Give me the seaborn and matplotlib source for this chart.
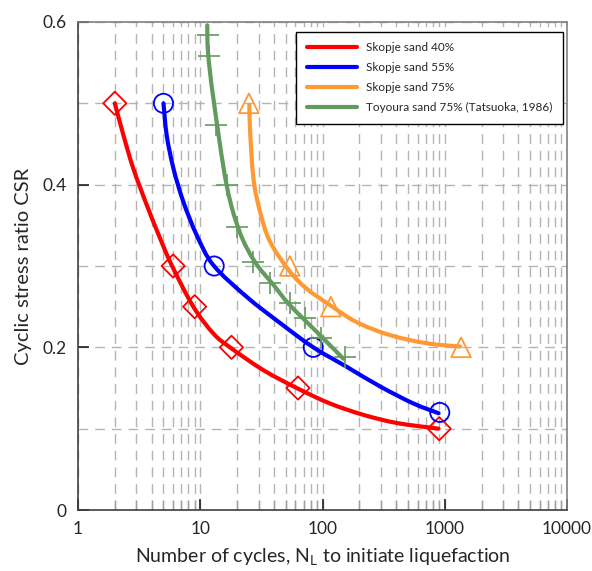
import numpy as np
import matplotlib
matplotlib.use("Agg")
import matplotlib.pyplot as plt
import seaborn as sns
from matplotlib.path import Path
from matplotlib.patches import PathPatch
from matplotlib.lines import Line2D
from matplotlib.ticker import LogLocator, FixedLocator, NullFormatter

# test points (cycles to liquefaction, CSR)
n_40 = [2, 6, 9, 18, 63, 900]
csr_40 = [0.50, 0.30, 0.25, 0.20, 0.15, 0.10]

n_55 = [5, 13, 84, 910]
csr_55 = [0.50, 0.30, 0.20, 0.12]

n_75 = [25, 54, 117, 1360]
csr_75 = [0.50, 0.30, 0.25, 0.20]

n_toy = [11.5, 11.8, 13.5, 16.4, 20, 27, 37, 54, 72, 98, 153]
csr_toy = [0.584, 0.558, 0.473, 0.40, 0.348, 0.305, 0.279, 0.254, 0.236, 0.212, 0.188]

# fitted curves
curve_n_40 = [2, 2.35, 2.83, 3.65, 4.69, 5.84, 8.77, 12.8, 17.5, 32.8, 61.5, 115, 216, 405, 890]
curve_csr_40 = [0.50, 0.461, 0.420, 0.375, 0.334, 0.301, 0.250, 0.217, 0.200, 0.172,
                0.150, 0.131, 0.117, 0.107, 0.100]

curve_n_55 = [5, 5.31, 6.03, 7.27, 9.35, 12.8, 24, 44.9, 84, 158, 295, 553, 890]
curve_csr_55 = [0.50, 0.461, 0.420, 0.379, 0.338, 0.301, 0.262, 0.230, 0.200, 0.176,
                0.152, 0.131, 0.119]

curve_n_75 = [25.2, 25.5, 27.2, 30.8, 37.2, 54.2, 74.3, 115, 190, 357, 712, 1333]
curve_csr_75 = [0.498, 0.469, 0.408, 0.367, 0.330, 0.293, 0.272, 0.252, 0.231, 0.215,
                0.205, 0.201]

curve_n_toy = [11.4, 11.6, 12.8, 16.4, 21, 28, 39.6, 54, 95.4, 148]
curve_csr_toy = [0.596, 0.561, 0.506, 0.400, 0.342, 0.305, 0.277, 0.252, 0.215, 0.186]

labels = ["Skopje sand 40%", "Skopje sand 55%", "Skopje sand 75%",
          "Toyoura sand 75% (Tatsuoka, 1986)"]
colors = ["#ff0000", "#0000ff", "#ff9933", "#639a5e"]

sns.set_style("white")
plt.rcParams['font.family'] = ['Lato', 'DejaVu Sans']
plt.rcParams['mathtext.fontset'] = 'custom'
plt.rcParams['mathtext.rm'] = 'Lato'


def smooth_path(xs, ys):
    # smoothed line through the read points, built in (log10 N, CSR) space
    pts = np.column_stack([np.log10(xs), ys])
    verts = [pts[0]]
    codes = [Path.MOVETO]
    for i in range(len(pts) - 1):
        p_prev = pts[i - 1] if i > 0 else pts[i]
        p_next = pts[i + 2] if i + 2 < len(pts) else pts[i + 1]
        c1 = pts[i] + (pts[i + 1] - p_prev) / 6
        c2 = pts[i + 1] - (p_next - pts[i]) / 6
        verts += [c1, c2, pts[i + 1]]
        codes += [Path.CURVE4] * 3
    verts = np.array(verts)
    verts[:, 0] = 10 ** verts[:, 0]
    return Path(verts, codes)


fig = plt.figure(figsize=(5.92, 5.71), dpi=100)
ax = fig.add_axes([0.1318, 0.1068, 0.826, 0.8547])
ax.set_xscale('log')
ax.set_xlim(1, 10000)
ax.set_ylim(0, 0.6)

# grid
ax.set_yticks([0, 0.2, 0.4, 0.6])
ax.yaxis.set_minor_locator(FixedLocator([0.1, 0.3, 0.5]))
ax.xaxis.set_major_locator(LogLocator(base=10, numticks=10))
ax.xaxis.set_minor_locator(LogLocator(base=10, subs=np.arange(2, 10), numticks=20))
ax.xaxis.set_minor_formatter(NullFormatter())
ax.grid(True, which='both', axis='both', color='#b4b4b4', lw=1.0,
        ls=(0, (7, 5)))
ax.set_axisbelow(True)

curves = [(curve_n_40, curve_csr_40), (curve_n_55, curve_csr_55),
          (curve_n_75, curve_csr_75), (curve_n_toy, curve_csr_toy)]
for (xs, ys), c in zip(curves, colors):
    ax.add_patch(PathPatch(smooth_path(xs, ys), fill=False, edgecolor=c,
                           lw=3, capstyle='round', zorder=3))

points = [(n_40, csr_40, 'D', 140), (n_55, csr_55, 'o', 190),
          (n_75, csr_75, '^', 200)]
for (xs, ys, mk, s), c in zip(points, colors[:3]):
    sns.scatterplot(x=xs, y=ys, marker=mk, s=s, facecolor='none',
                    edgecolor=c, linewidth=1.3, ax=ax, zorder=4)
ax.scatter(n_toy, csr_toy, marker='+', s=260, color=colors[3], linewidth=1.2,
           zorder=4)

# axes styling
for sp in ax.spines.values():
    sp.set_color('#808080')
    sp.set_linewidth(1.2)
ax.spines['left'].set_color('#404040')
ax.spines['bottom'].set_color('#404040')
ax.tick_params(which='major', direction='in', length=8, width=1.2,
               color='#202020', labelsize=12.5, pad=8,
               bottom=True, left=True, top=False, right=False)
ax.tick_params(which='minor', direction='in', length=7, width=1,
               color='#a0a0a0', bottom=True, left=False, top=False, right=False)
ax.set_yticklabels(['0', '0.2', '0.4', '0.6'])
ax.set_xticks([1, 10, 100, 1000, 10000])
ax.set_xticklabels(['1', '10', '100', '1000', '10000'])
for lab in ax.get_xticklabels():
    lab.set_clip_on(False)

ax.set_xlabel(r'Number of cycles, N$_\mathrm{L}$ to initiate liquefaction',
              fontsize=14, labelpad=7)
ax.set_ylabel('Cyclic stress ratio CSR', fontsize=14.5, labelpad=8)

handles = [Line2D([], [], color=c, lw=3) for c in colors]
leg = ax.legend(handles, labels, loc='upper right', bbox_to_anchor=(0.992, 0.98),
                borderaxespad=0, fontsize=8.5, frameon=True, fancybox=False,
                edgecolor='black', framealpha=1, handlelength=4.2,
                borderpad=0.9, labelspacing=0.75)
leg.get_frame().set_linewidth(1.0)

fig.savefig('out.png', dpi=100)
